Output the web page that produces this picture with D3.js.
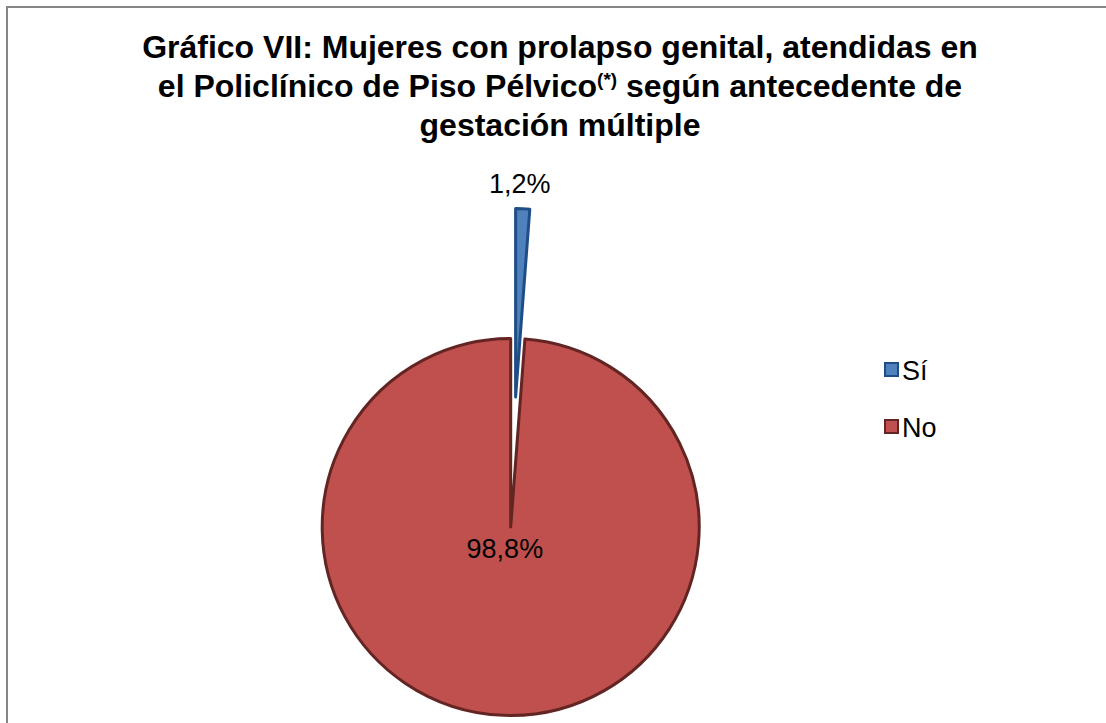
<!DOCTYPE html>
<html>
<head>
<meta charset="utf-8">
<script src="https://cdn.jsdelivr.net/npm/d3@7"></script>
<style>
  body { margin: 0; background: #fff; }
  svg { display: block; font-family: "Liberation Sans", Arial, sans-serif; }
</style>
</head>
<body>
<svg id="chart" width="1106" height="723"></svg>
<script>
// datos del gráfico
var categorias = ["Sí", "No"];
var valores = [1.2, 98.8];
var etiquetas = ["1,2%", "98,8%"];
var rellenos = ["#4F81BD", "#C0504D"];
var bordes = ["#1F4E86", "#632523"];

var svg = d3.select("#chart");

// marco del gráfico
svg.append("rect")
    .attr("x", 7).attr("y", 7)
    .attr("width", 1110).attr("height", 730)
    .attr("fill", "none")
    .attr("stroke", "#868686")
    .attr("stroke-width", 2);

// título
var titulo = svg.append("text")
    .attr("text-anchor", "middle")
    .attr("font-weight", "bold")
    .attr("font-size", 32)
    .attr("fill", "#000");

titulo.append("tspan").attr("x", 560).attr("y", 58)
    .text("Gráfico VII: Mujeres con prolapso genital, atendidas en");
var l2 = titulo.append("tspan").attr("x", 560).attr("y", 97);
l2.append("tspan").text("el Policlínico de Piso Pélvico");
l2.append("tspan").attr("font-size", 19).attr("dy", -11).text("(*)");
l2.append("tspan").attr("dy", 11).text(" según antecedente de");
titulo.append("tspan").attr("x", 560).attr("y", 136)
    .text("gestación múltiple");

// pastel
var cx = 510.7, cy = 527, radio = 188.5, explosion = 130;

var pie = d3.pie().sort(null).value(d => d);
var arcos = pie(valores);
var arc = d3.arc().innerRadius(0).outerRadius(radio);

var g = svg.append("g").attr("transform", "translate(" + cx + "," + cy + ")");

g.selectAll("path")
    .data(arcos)
    .enter()
    .append("path")
    .attr("d", arc)
    .attr("transform", (d, i) => {
        if (i !== 0) return null;
        var m = (d.startAngle + d.endAngle) / 2;
        return "translate(" + (Math.sin(m) * explosion) + "," + (-Math.cos(m) * explosion) + ")";
    })
    .attr("fill", (d, i) => rellenos[i])
    .attr("stroke", (d, i) => bordes[i])
    .attr("stroke-width", 3)
    .attr("stroke-linejoin", "round");

// etiquetas de datos
var radiosEtiqueta = [radio + explosion + 25, 22];
g.selectAll("text.etq")
    .data(arcos)
    .enter()
    .append("text")
    .attr("class", "etq")
    .attr("text-anchor", "middle")
    .attr("font-size", 27)
    .attr("x", (d, i) => Math.sin((d.startAngle + d.endAngle) / 2) * radiosEtiqueta[i] - (i === 0 ? 4 : 5))
    .attr("y", (d, i) => -Math.cos((d.startAngle + d.endAngle) / 2) * radiosEtiqueta[i] + 9)
    .text((d, i) => etiquetas[i]);

// leyenda
var leyenda = svg.append("g").attr("transform", "translate(884,362)");
var item = leyenda.selectAll("g")
    .data(categorias)
    .enter()
    .append("g")
    .attr("transform", (d, i) => "translate(0," + (i * 57) + ")");

item.append("rect")
    .attr("x", 1).attr("y", 1)
    .attr("width", 13).attr("height", 13)
    .attr("fill", (d, i) => rellenos[i])
    .attr("stroke", (d, i) => bordes[i])
    .attr("stroke-width", 2);

item.append("text")
    .attr("x", 18).attr("y", 18)
    .attr("font-size", 27)
    .text(d => d);
</script>
</body>
</html>
